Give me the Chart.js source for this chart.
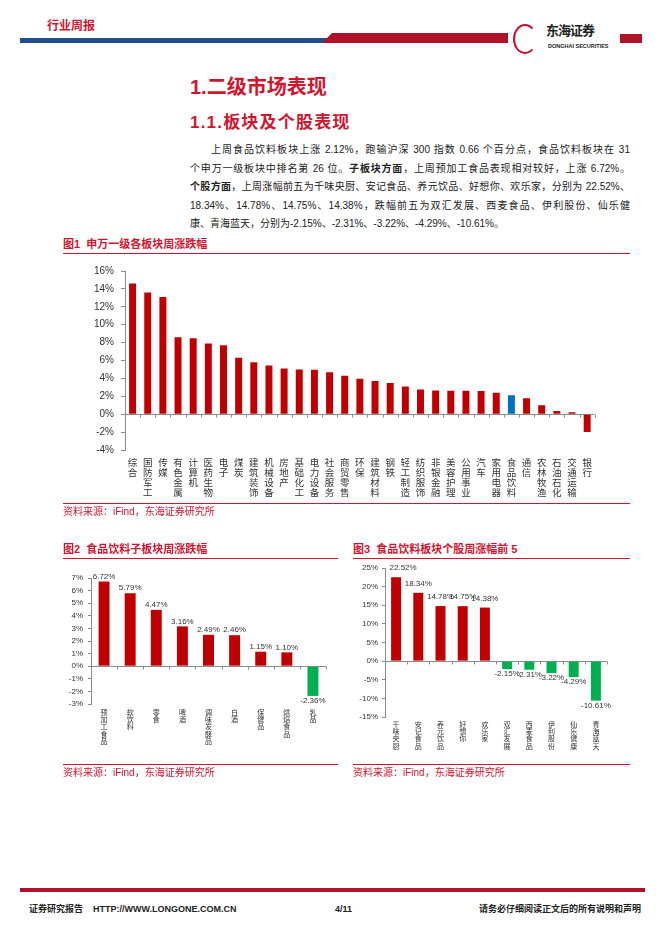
<!DOCTYPE html>
<html>
<head>
<meta charset="utf-8">
<script src="https://cdn.jsdelivr.net/npm/chart.js@4.4.0/dist/chart.umd.min.js"></script>
<style>
  body { margin: 0; background: #fff; }
  #page { position: relative; width: 662px; height: 936px; overflow: hidden;
    font-family: Arial, "Liberation Sans", "Noto Sans CJK SC", sans-serif; color: #222; }
  .abs { position: absolute; white-space: nowrap; }
  .red { color: #d0152f; }
  .hline { position: absolute; height: 1px; background: #d0152f; }
  .para { position: absolute; left: 190px; width: 440px; font-size: 10px; line-height: 18px;
    height: 18px; text-align: justify; text-align-last: justify; white-space: nowrap; color: #222; }
  .figtitle { position: absolute; font-size: 11px; font-weight: bold; color: #d0152f; line-height: 14px; }
  .source { position: absolute; font-size: 10px; color: #d0152f; line-height: 14px; }
  canvas { position: absolute; }
</style>
</head>
<body>
<div id="page">
  <!-- header -->
  <div class="abs red" style="left:47px;top:19px;font-size:12px;font-weight:bold;line-height:14px;">行业周报</div>
  <div class="abs" style="left:20px;top:38px;width:312px;height:5px;background:#1f4f8f;"></div>
  <div class="abs" style="left:322px;top:33px;width:186px;height:10px;background:#b0122a;clip-path:polygon(10px 0,100% 0,100% 100%,0 100%);"></div>
  <div class="abs" style="left:513px;top:24px;width:20px;height:26px;border:2px solid #c8102e;border-radius:50%;border-right-color:transparent;"></div>
  <div class="abs" style="left:546px;top:22px;font-size:13px;font-weight:bold;letter-spacing:-1px;line-height:16px;color:#222;font-family:'Noto Sans CJK SC',sans-serif;">东海证券</div>
  <div class="abs" style="left:548px;top:43px;font-size:5.5px;font-weight:bold;line-height:7px;color:#222;">DONGHAI SECURITIES</div>
  <div class="abs" style="left:620px;top:34px;width:22px;height:9px;background:#b0122a;"></div>

  <!-- headings -->
  <div class="abs red" style="left:190px;top:75px;font-size:20px;font-weight:bold;line-height:24px;">1.二级市场表现</div>
  <div class="abs red" style="left:190px;top:112px;font-size:17px;font-weight:bold;line-height:22px;letter-spacing:1.2px;">1.1.板块及个股表现</div>

  <div class="para" style="top:141px;left:211px;width:419px;">上周食品饮料板块上涨 2.12%，跑输沪深 300 指数 0.66 个百分点，食品饮料板块在 31</div>
  <div class="para" style="top:159.5px;">个申万一级板块中排名第 26 位。<b>子板块方面</b>，上周预加工食品表现相对较好，上涨 6.72%。</div>
  <div class="para" style="top:178px;"><b>个股方面</b>，上周涨幅前五为千味央厨、安记食品、养元饮品、好想你、欢乐家，分别为 22.52%、</div>
  <div class="para" style="top:196.5px;">18.34%、14.78%、14.75%、14.38%，跌幅前五为双汇发展、西麦食品、伊利股份、仙乐健</div>
  <div class="para" style="top:215px;text-align:left;text-align-last:left;">康、青海蓝天，分别为-2.15%、-2.31%、-3.22%、-4.29%、-10.61%。</div>

  <!-- figure 1 -->
  <div class="figtitle" style="left:63px;top:237px;">图1&nbsp; 申万一级各板块周涨跌幅</div>
  <div class="hline" style="left:63px;top:253px;width:567px;"></div>
  <canvas id="chart1" width="530" height="252" style="left:70px;top:258px;"></canvas>
  <div class="hline" style="left:63px;top:503px;width:567px;"></div>
  <div class="source" style="left:63px;top:505px;">资料来源：iFind，东海证券研究所</div>

  <!-- figure 2 -->
  <div class="figtitle" style="left:63px;top:542px;">图2&nbsp; 食品饮料子板块周涨跌幅</div>
  <div class="hline" style="left:63px;top:558px;width:275px;"></div>
  <canvas id="chart2" width="286" height="187" style="left:45px;top:568px;"></canvas>
  <div class="hline" style="left:63px;top:764px;width:275px;"></div>
  <div class="source" style="left:63px;top:766px;">资料来源：iFind，东海证券研究所</div>

  <!-- figure 3 -->
  <div class="figtitle" style="left:353px;top:542px;">图3&nbsp; 食品饮料板块个股周涨幅前 5</div>
  <div class="hline" style="left:353px;top:558px;width:277px;"></div>
  <canvas id="chart3" width="267" height="205" style="left:345px;top:556px;"></canvas>
  <div class="hline" style="left:353px;top:764px;width:277px;"></div>
  <div class="source" style="left:353px;top:766px;">资料来源：iFind，东海证券研究所</div>

  <!-- footer -->
  <div class="abs" style="left:20px;top:888px;width:625px;height:4px;background:#b0122a;"></div>
  <div class="abs" style="left:29px;top:903px;font-size:9px;font-weight:bold;line-height:12px;">证券研究报告&nbsp;&nbsp;&nbsp; HTTP://WWW.LONGONE.COM.CN</div>
  <div class="abs" style="left:335px;top:903px;font-size:9px;font-weight:bold;line-height:12px;">4/11</div>
  <div class="abs" style="left:479px;top:903px;font-size:9px;font-weight:bold;line-height:12px;">请务必仔细阅读正文后的所有说明和声明</div>
</div>

<script>
// 图1 申万一级各板块周涨跌幅
const sectorNames = ["综合", "国防军工", "传媒", "有色金属", "计算机", "医药生物", "电子", "煤炭",
  "建筑装饰", "机械设备", "房地产", "基础化工", "电力设备", "社会服务", "商贸零售", "环保",
  "建筑材料", "钢铁", "轻工制造", "纺织服饰", "非银金融", "美容护理", "公用事业", "汽车",
  "家用电器", "食品饮料", "通信", "农林牧渔", "石油石化", "交通运输", "银行"];
const sectorChange = [14.6, 13.6, 13.1, 8.6, 8.5, 7.9, 7.7, 6.3, 5.8, 5.45, 5.1, 5.0, 4.98, 4.7,
  4.3, 3.96, 3.7, 3.5, 3.1, 2.75, 2.65, 2.63, 2.62, 2.6, 2.4, 2.12, 1.78, 1.0, 0.35, 0.22, -2.0];
const sectorTicks = [-4, 16, 2];

// 图2 食品饮料子板块周涨跌幅
const subNames = ["预加工食品", "软饮料", "零食", "啤酒", "调味发酵品", "白酒", "保健品", "烘焙食品", "乳品"];
const subChange = [6.72, 5.79, 4.47, 3.16, 2.49, 2.46, 1.15, 1.10, -2.36];
const subTicks = [-3, 7, 1];

// 图3 食品饮料板块个股周涨幅前5 / 跌幅前5
const stockNames = ["千味央厨", "安记食品", "养元饮品", "好想你", "欢乐家", "双汇发展", "西麦食品", "伊利股份", "仙乐健康", "青海蓝天"];
const stockChange = [22.52, 18.34, 14.78, 14.75, 14.38, -2.15, -2.31, -3.22, -4.29, -10.61];
const stockTicks = [-15, 25, 5];

const RED = "#c00000";
const BLUE = "#0070c0";
const GREEN = "#00b050";
const AXIS = "#8c8c8c";
const FONT = 'Arial, "Liberation Sans", "Noto Sans CJK SC", sans-serif';

// 0% 横线及刻度
const zeroAxis = {
  id: "zeroAxis",
  beforeDatasetsDraw(chart) {
    const { ctx, chartArea, scales } = chart;
    const y0 = Math.round(scales.y.getPixelForValue(0)) + 0.5;
    const n = chart.data.labels.length;
    const step = scales.x.getPixelForValue(1) - scales.x.getPixelForValue(0);
    ctx.save();
    ctx.strokeStyle = AXIS;
    ctx.lineWidth = 1;
    ctx.beginPath();
    ctx.moveTo(chartArea.left, y0);
    ctx.lineTo(chartArea.right, y0);
    for (let i = 0; i <= n; i++) {
      const x = Math.round(scales.x.getPixelForValue(0) + (i - 0.5) * step) + 0.5;
      ctx.moveTo(x, y0);
      ctx.lineTo(x, y0 + 3);
    }
    ctx.stroke();
    ctx.restore();
  },
};

// 柱顶数值
function valueLabels(upGap, downGap, firstShift) {
  return {
    id: "valueLabels",
    afterDatasetsDraw(chart) {
      const { ctx } = chart;
      const values = chart.data.datasets[0].data;
      ctx.save();
      ctx.font = "8px " + FONT;
      ctx.fillStyle = "#333";
      ctx.textAlign = "center";
      chart.getDatasetMeta(0).data.forEach((bar, i) => {
        const v = values[i];
        const x = bar.x + (i === 0 ? firstShift : 0);
        if (v >= 0) {
          ctx.textBaseline = "bottom";
          ctx.fillText(v.toFixed(2) + "%", x, bar.y - upGap);
        } else {
          ctx.textBaseline = "top";
          ctx.fillText(v.toFixed(2) + "%", x, bar.y + downGap);
        }
      });
      ctx.restore();
    },
  };
}

function makeChart(id, names, values, colors, ticks, cfg, extraPlugins) {
  return new Chart(document.getElementById(id), {
    type: "bar",
    data: {
      labels: names.map((n) => n.split("")),
      datasets: [{ data: values, backgroundColor: colors, barPercentage: cfg.bar, categoryPercentage: 1 }],
    },
    options: {
      responsive: false,
      animation: false,
      devicePixelRatio: 1,
      layout: { padding: { top: cfg.padTop, right: 5, left: 0, bottom: cfg.padBottom } },
      plugins: { legend: { display: false }, tooltip: { enabled: false } },
      scales: {
        x: {
          grid: { display: false, drawTicks: false },
          border: { display: false },
          ticks: {
            autoSkip: false, maxRotation: 0, minRotation: 0, padding: cfg.xPad,
            color: "#333", font: { family: FONT, size: cfg.xFont, lineHeight: cfg.xLine },
          },
          afterFit: (s) => { s.height = cfg.xHeight; },
        },
        y: {
          min: ticks[0], max: ticks[1],
          grid: { drawOnChartArea: false, drawTicks: true, tickLength: cfg.tickLen, color: AXIS },
          border: { display: true, color: AXIS },
          ticks: {
            stepSize: ticks[2], padding: cfg.yPad, color: "#333",
            font: { family: FONT, size: cfg.yFont },
            callback: (v) => v + "%",
          },
          afterFit: (s) => { s.width = cfg.yWidth; },
        },
      },
    },
    plugins: [zeroAxis].concat(extraPlugins),
  });
}

makeChart("chart1", sectorNames, sectorChange,
  sectorNames.map((n) => (n === "食品饮料" ? BLUE : RED)), sectorTicks,
  { bar: 0.46, padTop: 9, padBottom: 10, xPad: 8, xFont: 9.5, xLine: 1.07, xHeight: 50, yFont: 10, yWidth: 55, tickLen: 4, yPad: 7 }, []);

makeChart("chart2", subNames, subChange,
  subChange.map((v) => (v >= 0 ? RED : GREEN)), subTicks,
  { bar: 0.42, padTop: 10, padBottom: 6, xPad: 5, xFont: 7, xLine: 1.05, xHeight: 45, yFont: 8, yWidth: 46, tickLen: 3, yPad: 5 },
  [valueLabels(1, 1, 0)]);

makeChart("chart3", stockNames, stockChange,
  stockChange.map((v) => (v >= 0 ? RED : GREEN)), stockTicks,
  { bar: 0.45, padTop: 12, padBottom: 6, xPad: 4, xFont: 7, xLine: 1.05, xHeight: 38, yFont: 8, yWidth: 40, tickLen: 3, yPad: 4 },
  [valueLabels(5, 1, 7)]);
</script>
</body>
</html>
